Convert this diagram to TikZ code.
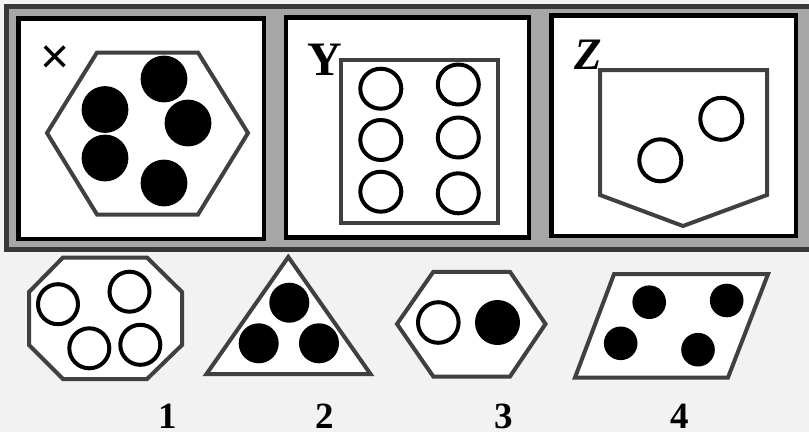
\documentclass[tikz,border=0pt]{standalone}
\usepackage{fontspec}
\setmainfont{Liberation Serif}
\newfontfamily\crossfont{Liberation Sans}
\definecolor{bgc}{HTML}{F2F2F2}
\definecolor{outerc}{HTML}{383838}
\definecolor{midgray}{HTML}{A6A6A6}
\definecolor{shapec}{HTML}{404040}
\begin{document}
\begin{tikzpicture}[x=1pt,y=-1pt,
  panel/.style={draw=black,fill=white,line width=4.6pt},
  shapeline/.style={draw=shapec,fill=white,line width=4pt,line join=miter},
  dotfull/.style={fill=black},
  dotopen/.style={draw=black,fill=white,line width=4pt},
  lettr/.style={inner sep=0pt,anchor=base,font=\bfseries\fontsize{48}{48}\selectfont},
  numlab/.style={inner sep=0pt,anchor=base,font=\bfseries\fontsize{37}{37}\selectfont}]
\useasboundingbox (0,0) rectangle (809,432);
\fill[bgc] (0,0) rectangle (809,432);
% outer band
\draw[draw=outerc,fill=midgray,line width=5pt] (6.5,6.5) rectangle (820,249.2);
% panels
\draw[panel] (18.7,18.3) rectangle (264,239);
\draw[panel] (286,17.5) rectangle (529,237.5);
\draw[panel] (551.7,15.5) rectangle (796,236);
% panel X
\node[inner sep=0pt,font=\crossfont\fontsize{50}{50}\selectfont] (lx) at (55,60) {×};
\draw[shapeline] (97,52.5) -- (198,52.5) -- (248,133) -- (198,214.5) -- (97,214.5) -- (47,133) -- cycle;
\foreach \p in {(164,79),(105,109.5),(188,123),(105,158),(164,183)}
  \fill[dotfull] \p circle (23.4);
% panel Y
\node[lettr] (ly) at (324.5,75) {Y};
\draw[shapeline] (341,59.5) rectangle (497.5,223);
\foreach \p in {(380.8,88.7),(458.3,84.5),(380.8,140),(458.3,137.5),(380.8,191.7),(458.3,193.3)}
  \draw[dotopen] \p ellipse (20.5 and 20);
% panel Z
\node[lettr,font=\bfseries\itshape\fontsize{45}{45}\selectfont] (lz) at (588.5,69.5) {Z};
\draw[shapeline] (600,70) -- (767,70) -- (767,195) -- (683,226) -- (600,195) -- cycle;
\draw[dotopen] (721.3,118.8) circle (21);
\draw[dotopen] (660.3,160.3) circle (21);
% option 1: octagon
\draw[shapeline] (63,257.5) -- (147,257.5) -- (182,292) -- (182,345) -- (147,379) -- (63,379) -- (29,345) -- (29,292) -- cycle;
\foreach \p in {(58,304.2),(129.5,291.7),(89.3,348.3),(140.3,344.8)}
  \draw[dotopen] \p circle (20);
% option 2: triangle
\draw[shapeline] (288.3,257) -- (370.5,374) -- (206.5,374) -- cycle;
\foreach \p in {(289.3,302.7),(258.7,343.3),(319,343.3)}
  \fill[dotfull] \p circle (20);
% option 3: hexagon
\draw[shapeline] (433.3,271.8) -- (510,271.8) -- (545.5,324) -- (510,376.5) -- (433.3,376.5) -- (397,324) -- cycle;
\draw[dotopen] (438.3,322.5) circle (20.3);
\fill[dotfull] (497.5,322.5) circle (22.5);
% option 4: parallelogram
\draw[shapeline] (614,274.2) -- (768,274.2) -- (728,377.5) -- (575,377.5) -- cycle;
\foreach \p in {(649.2,302.2),(726.7,300.5),(620.7,343.3),(698,349.7)}
  \fill[dotfull] \p circle (16.8);
% labels
\node[numlab] (n1) at (168,428) {1};
\node[numlab] (n2) at (325,428) {2};
\node[numlab] (n3) at (503.3,428) {3};
\node[numlab] (n4) at (680,428) {4};
\end{tikzpicture}
\end{document}
